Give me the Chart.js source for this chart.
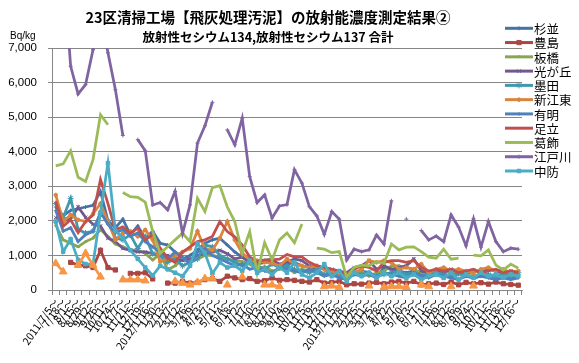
<!DOCTYPE html>
<html>
<head>
<meta charset="utf-8">
<script src="https://cdn.jsdelivr.net/npm/chart.js@4"></script>
<style>
  html, body { margin: 0; padding: 0; background: #fff; }
  canvas { display: block; }
</style>
</head>
<body>
<canvas id="grafica" width="579" height="363" style="width:579px;height:363px"></canvas>
<script>
// 測定期間（2週間ごと）
const periodLabels = [
  '2011/7/5～', '7/18～', '8/1～', '8/15～', '8/29～', '9/12～', '9/26～', '10/11～', '10/24～', '11/7～', '11/21～', '12/5～', '12/19～',
  '2012/1/16～', '1/30～', '2/13～', '2/27～', '3/12～', '3/26～', '4/9～', '4/23～', '5/7～', '5/21～', '6/4～', '6/18～', '7/2～',
  '7/17～', '7/30～', '8/13～', '8/27～', '9/10～', '9/24～', '10/9～', '10/22～', '11/5～', '11/19～', '12/3～', '12/17～',
  '2013/1/15～', '1/28～', '2/12～', '2/25～', '3/11～', '3/25～', '4/8～', '4/22～', '5/7～', '5/20～', '6/3～', '6/17～', '7/1～',
  '7/16～', '7/29～', '8/12～', '8/26～', '9/9～', '9/24～', '10/7～', '10/21～', '11/5～', '11/18～', '12/2～', '12/16～'
];

const yTicks = [0, 1000, 2000, 3000, 4000, 5000, 6000, 7000];

// 各工場の値 (Bq/kg)
const suginami = [2400, 2150, 2300, 2350, 2400, 2450, 2850, 2000, 1800, 2050, 1600, 1850, 1500, 1700, 1350, 1300,
  1100, 900, 1000, 1150, 1350, 1450, 1500, 1300, 1100, 950, 800, 750, 850, 900, 700, 750,
  800, 700, 650, 700, 600, 550, 500, 350, 450, 550, 500, 400, 650, 600, 550, 500,
  550, 450, 400, 500, 450, 400, 450, 400, 350, 400, 450, 380, 400, 350, 380];
const toshima = [null, null, 800, 720, 700, 650, 1150, 650, 580, null, 480, 480, 500, 320, null, 200,
  200, 250, 200, 220, 300, 330, 250, 400, 350, 300, 330, 250, 270, 350, 280, 300,
  280, 250, 230, 300, 200, 220, 250, 150, 180, 170, 200, 220, 180, 230, 250, 200,
  250, 150, 180, 200, 160, 230, 150, 220, 180, 210, 170, 230, 180, 160, 140];
const itabashi = [1880, 1450, 1350, 1250, 1400, 1500, 1750, 1550, 1330, 1250, 1150, 1150, 1060, 870, 1050, 580,
  700, 900, 800, 900, 1000, 1000, 950, 900, 850, 820, 750, 600, 680, 550, 600, 650,
  500, 600, 550, 700, 600, 400, 500, 350, 450, 550, 400, 500, 550, 700, 700, 650,
  600, 500, 500, 550, 600, 500, 450, 400, 420, 400, 450, 350, 450, 400, 420];
const hikarigaoka = [2100, 2000, 2050, 2400, 2100, 1900, 1850, 1500, 1400, 1200, 1150, 1100, 1100, 1050, 1000, 1000,
  900, 850, 900, 1000, 1050, 1100, 1150, 1050, 900, 950, 800, 750, 800, 850, 750, 800,
  900, 850, 700, 600, 650, 600, 550, 500, 650, 700, 850, 600, 700, 600, 650, 700,
  900, 550, 500, 550, 500, 600, 550, 500, 550, 500, 600, 550, 500, 550, 500];
const sumida = [2500, 2100, 2650, 1750, 1650, 1700, 2200, 2000, 1500, 1450, 1600, 1200, 1550, 1050, 1000, 800,
  900, 700, 800, 900, 1300, 1250, 1000, 900, 800, 700, 850, 700, 600, 750, 650, 700,
  600, 550, 500, 600, 450, 500, 400, 350, 500, 450, 500, 400, 450, 500, 550, 450,
  500, 400, 450, 500, 450, 400, 500, 450, 550, 500, 450, 400, 500, 450, 500];
const shinkoto = [2750, 1980, 2170, 2030, 1980, 2200, 2500, 1980, 1450, 1640, 1700, 1550, 1740, 1450, 820, 900,
  1000, 1100, 1200, 1700, 1200, 1150, 1500, 1980, 1450, 1060, 900, 850, 800, 780, 700, 900,
  750, 700, 650, 700, 600, 550, 500, 400, 500, 600, 850, 800, 850, 800, 600, 650,
  600, 750, 500, 600, 650, 550, 600, 550, 500, 600, 650, 550, 600, 500, 550];
const ariake = [2300, 1700, 1800, 1400, 1600, 1700, 2250, 1900, 1650, 1750, 1550, 1650, 1400, 1250, 1100, 900,
  1100, 950, 750, 1100, 1200, 1000, 900, 800, 700, 750, 600, 650, 550, 500, 650, 600,
  550, 500, 600, 500, 400, 450, 350, 300, 450, 400, 450, 350, 500, 450, 400, 350,
  500, 400, 350, 450, 400, 350, 300, 400, 350, 400, 350, 300, 350, 300, 350];
const adachi = [2560, 1840, 2030, 1660, 1980, 2170, 3200, 2500, 1740, 1830, 1640, 1790, 1450, 1600, 1210, 920,
  800, 1100, 1250, 1400, 1450, 1550, 1980, 1690, 1540, 1300, 960, 820, 870, 870, 890, 1030,
  960, 960, 800, 700, 650, 600, 550, 450, 600, 700, 650, 550, 800, 850, 850, 800,
  850, 650, 550, 600, 550, 600, 500, 550, 600, 500, 550, 600, 500, 550, 500];
const katsushika = [3590, 3650, 4030, 3260, 3140, 3770, 5070, 4780, null, 2820, 2700, 2680, 2540, 1690, 1060, 1250,
  1450, 1640, 1400, 2650, 2270, 2960, 3020, 2400, 1980, 1070, 1690, 490, 1370, 870, 1450, 1650,
  1370, 1910, null, 1210, 1180, 1080, 1110, 370, 650, 720, 700, 820, 770, 1330, 1160, 1240,
  1250, 1110, 950, 920, 1180, 890, 920, null, 1010, 990, 1160, 720, 580, 750, 630];
const edogawa = [null, 9400, 6470, 5670, 5940, 6950, 8000, 6860, 5790, 4470, null, 4350, 4030, 2460, 2530, 2320,
  2850, 1640, 2460, 4250, 4750, 5430, null, 4630, 4200, 4970, 3280, 2530, 2750, 2080, 2430, 2470,
  3480, 3090, 2410, 2140, 1610, 2270, 2050, 870, 1180, 1110, 1160, 1590, 1330, 2580, null, 2050,
  null, 1720, 1450, 1560, 1400, 2170, 1820, 1280, 2060, 1240, 1980, 1400, 1110, 1210, 1180];
const chubo = [1980, 1110, 1470, 870, 750, 750, 2240, 3670, 1700, 1520, 1150, 900, 650, 420, 700, 600,
  500, 400, 700, 1350, 1060, 480, 800, 650, 700, 550, 850, 500, 600, 450, 650, 500,
  800, 450, 350, 500, 750, 400, 550, 250, 500, 400, 500, 350, 500, 400, 500, 350,
  450, 300, 400, 450, 350, 500, 300, 450, 350, 500, 400, 450, 350, 450, 400];
// 凡例に出ていない系列（オレンジの三角）
const others = [770, 530, null, 720, 1060, 720, 380, null, null, 300, 300, 300, 270, null, null, null,
  250, 200, 150, 220, 330, 330, null, 150, null, 380, null, null, 150, 150, 100, null,
  null, null, null, null, 100, 120, 80, null, null, null, 120, null, 80, 100, 100, 80,
  null, 150, 100, null, null, 100, null, null, 120, null, null, null, null, null, null];

const series = [
  { label: '杉並', data: suginami, color: '#4572A7', style: 'cross', r: 2 },
  { label: '豊島', data: toshima, color: '#AA4643', style: 'rect', r: 3 },
  { label: '板橋', data: itabashi, color: '#89A54E', style: 'triangle', r: 1.5 },
  { label: '光が丘', data: hikarigaoka, color: '#71588F', style: 'crossRot', r: 2.5 },
  { label: '墨田', data: sumida, color: '#4198AF', style: 'star', r: 3 },
  { label: '新江東', data: shinkoto, color: '#DB843D', style: 'circle', r: 1.8 },
  { label: '有明', data: ariake, color: '#4F81BD', style: 'cross', r: 1.8 },
  { label: '足立', data: adachi, color: '#C0504D', style: 'circle', r: 0 },
  { label: '葛飾', data: katsushika, color: '#9BBB59', style: 'circle', r: 0 },
  { label: '江戸川', data: edogawa, color: '#8064A2', style: 'cross', r: 2 },
  { label: '中防', data: chubo, color: '#4BACC6', style: 'rect', r: 2.5 },
  { label: 'その他', data: others, color: '#F79646', style: 'triangle', r: 4.5, hidden: true }
];

const jp = '"Noto Sans CJK JP", sans-serif';

// タイトル・単位・凡例を描く
const overlay = {
  id: 'overlay',
  afterDraw(chart) {
    const ctx = chart.ctx;
    ctx.save();
    ctx.fillStyle = '#000';
    ctx.textAlign = 'center';
    ctx.textBaseline = 'middle';
    ctx.font = 'bold 14.5px ' + jp;
    ctx.fillText('23区清掃工場【飛灰処理汚泥】の放射能濃度測定結果②', 268, 17);
    ctx.font = 'bold 12.5px ' + jp;
    ctx.fillText('放射性セシウム134,放射性セシウム137 合計', 268, 37);
    ctx.textAlign = 'left';
    ctx.font = '10px "Liberation Sans", sans-serif';
    ctx.fillText('Bq/kg', 10, 36);

    // 凡例
    ctx.font = '12.5px ' + jp;
    chart.data.datasets.forEach((ds, i) => {
      if (ds.legendHidden) return;
      const y = 28.3 + i * 14.27;
      ctx.strokeStyle = ds.borderColor;
      ctx.lineWidth = 3;
      ctx.beginPath();
      ctx.moveTo(505, y);
      ctx.lineTo(533, y);
      ctx.stroke();
      if (ds.pointRadius > 0) {
        ctx.fillStyle = ds.borderColor;
        ctx.lineWidth = 1;
        Chart.helpers.drawPoint(ctx, { pointStyle: ds.pointStyle, radius: ds.pointRadius, rotation: 0, borderWidth: 1 }, 519, y);
      }
      ctx.fillStyle = '#000';
      ctx.fillText(ds.label, 534, y + 1);
    });
    ctx.restore();
  }
};

const canvas = document.getElementById('grafica');

const chart = new Chart(canvas, {
  type: 'line',
  data: {
    labels: periodLabels,
    datasets: series.map((s, i) => ({
      label: s.label,
      data: s.data,
      borderColor: s.color,
      backgroundColor: s.color,
      borderWidth: 2.75,
      pointStyle: s.style,
      pointRadius: s.r,
      pointBorderWidth: 1,
      pointHoverRadius: s.r,
      tension: 0,
      spanGaps: false,
      order: series.length - i,
      legendHidden: !!s.hidden
    }))
  },
  options: {
    responsive: false,
    animation: false,
    devicePixelRatio: 1,
    layout: { padding: { top: 48, right: 57, left: 0, bottom: 0 } },
    plugins: {
      legend: { display: false },
      title: { display: false },
      tooltip: { enabled: false }
    },
    scales: {
      x: {
        offset: true,
        grid: { offset: true, drawOnChartArea: false, color: '#868686', tickLength: 5 },
        border: { color: '#868686', width: 1 },
        ticks: {
          autoSkip: false,
          maxRotation: 55,
          minRotation: 55,
          padding: 1,
          color: '#000',
          font: { size: 10.5, family: jp }
        },
        afterFit(scale) { scale.height = 73; }
      },
      y: {
        min: yTicks[0],
        max: yTicks[yTicks.length - 1],
        afterBuildTicks(scale) { scale.ticks = yTicks.map(v => ({ value: v })); },
        grid: { color: '#868686', tickLength: 4 },
        border: { color: '#868686', width: 1 },
        ticks: {
          padding: 11,
          color: '#000',
          font: { size: 11.5, family: '"Liberation Sans", sans-serif' },
          callback: v => v.toLocaleString('en-US')
        },
        afterFit(scale) { scale.width = 52; }
      }
    }
  },
  plugins: [overlay]
});
</script>
</body>
</html>
